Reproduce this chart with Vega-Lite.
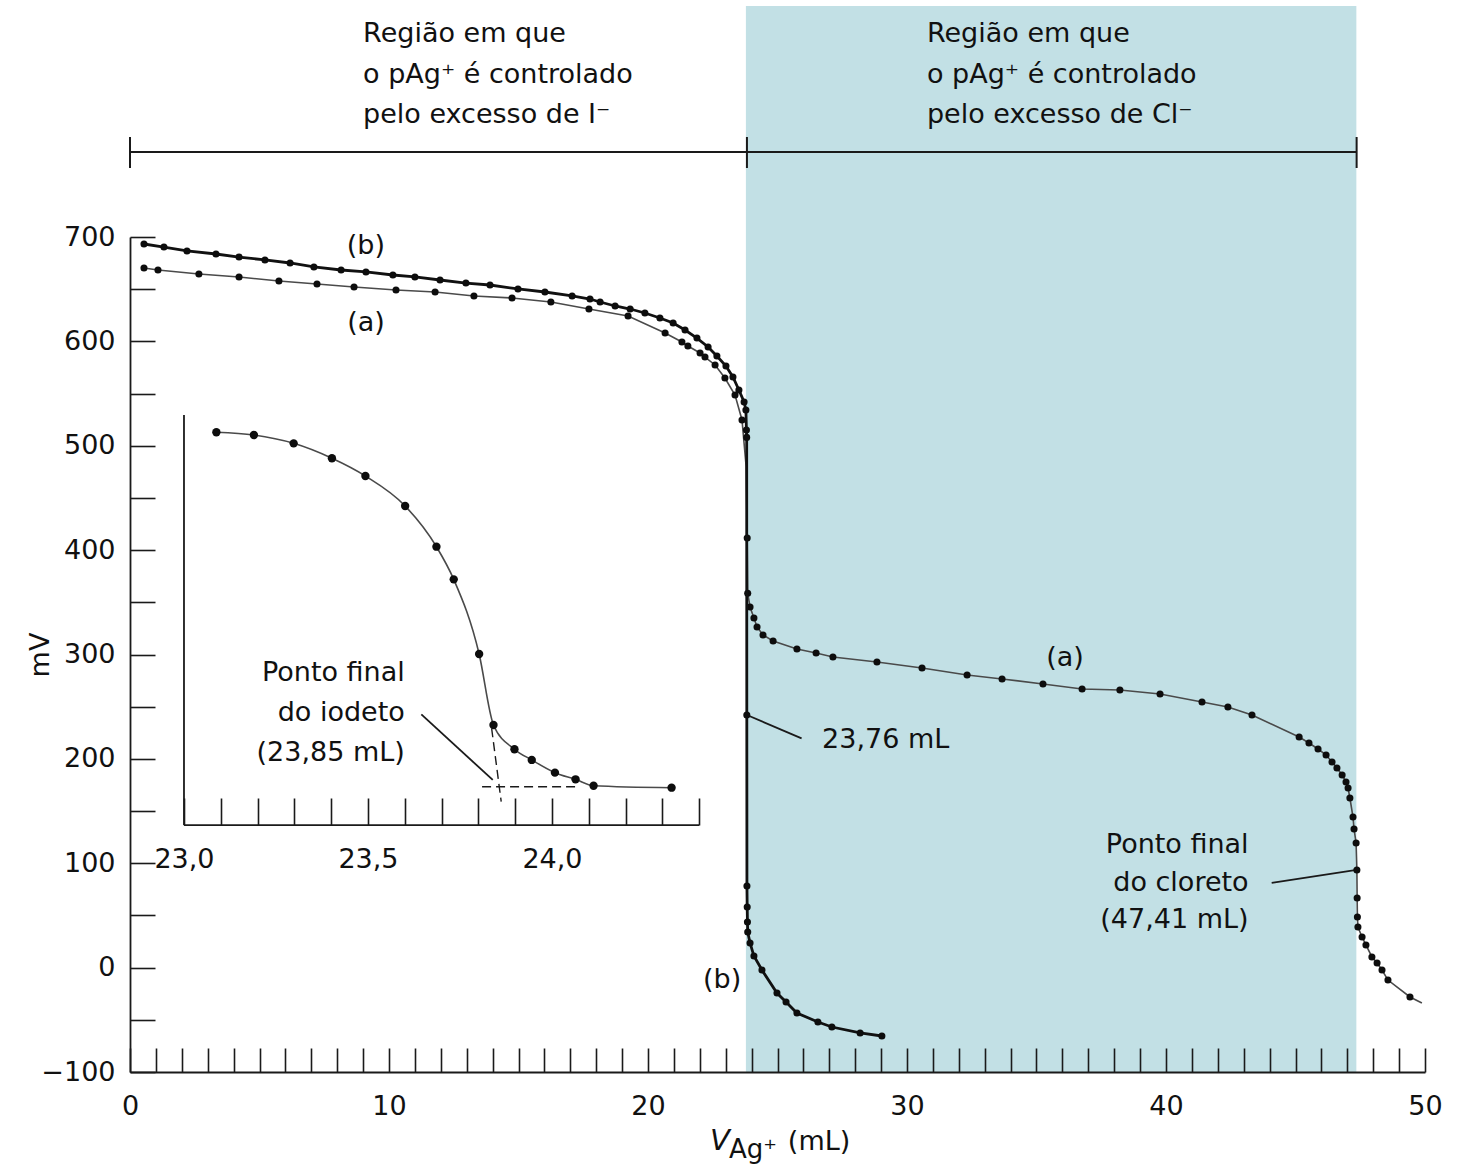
{
  "$schema": "https://vega.github.io/schema/vega-lite/v6.json",
  "width": 1295,
  "height": 835,
  "autosize": {"type": "none"},
  "padding": {"left": 130, "top": 237, "right": 38, "bottom": 95},
  "background": "white",
  "config": {
    "view": {"stroke": null},
    "font": "DejaVu Sans",
    "axis": {"grid": false, "domainColor": "#1a1a1a", "domainWidth": 1.8, "tickColor": "#1a1a1a", "tickWidth": 1.6, "labelColor": "#111", "titleColor": "#111", "labelFont": "DejaVu Sans", "titleFont": "DejaVu Sans", "labelFontSize": 27, "titleFontSize": 27, "titleFontWeight": "normal", "labelOverlap": false, "labelFlush": false}
  },
  "datasets": {
    "sombra": [{"x1": 23.78, "x2": 47.35, "y1": -100, "y2": 921.3}],
    "chave": [
      {"x": 0, "x2": 47.36, "y": 781.4, "y2": 781.4},
      {"x": 0, "x2": 0, "y": 766.1, "y2": 795.8},
      {"x": 23.82, "x2": 23.82, "y": 766.1, "y2": 795.8},
      {"x": 47.36, "x2": 47.36, "y": 766.1, "y2": 795.8}
    ],
    "guias": [
      {"x": 23.82, "y": 242.0, "x2": 25.93, "y2": 219.7},
      {"x": 44.08, "y": 81.1, "x2": 47.36, "y2": 93.7}
    ],
    "a": [
      {"x": 0.54, "y": 670.3, "m": 1}, {"x": 1.08, "y": 668.4, "m": 1}, {"x": 2.66, "y": 664.6, "m": 1},
      {"x": 4.21, "y": 661.7, "m": 1}, {"x": 5.75, "y": 657.8, "m": 1}, {"x": 7.22, "y": 655.0, "m": 1},
      {"x": 8.65, "y": 652.1, "m": 1}, {"x": 10.27, "y": 649.2, "m": 1}, {"x": 11.78, "y": 647.3, "m": 1},
      {"x": 13.28, "y": 643.5, "m": 1}, {"x": 14.75, "y": 641.6, "m": 1}, {"x": 16.25, "y": 637.7, "m": 1},
      {"x": 17.72, "y": 631.0, "m": 1}, {"x": 19.23, "y": 624.3, "m": 1}, {"x": 20.66, "y": 608.0, "m": 1},
      {"x": 21.31, "y": 599.4, "m": 1}, {"x": 21.54, "y": 595.6, "m": 1}, {"x": 22.01, "y": 588.9, "m": 1},
      {"x": 22.20, "y": 585.0, "m": 1}, {"x": 22.59, "y": 577.4, "m": 1}, {"x": 22.97, "y": 564.9, "m": 1},
      {"x": 23.36, "y": 548.6, "m": 1}, {"x": 23.63, "y": 524.7, "m": 1}, {"x": 23.79, "y": 480.0, "m": 0},
      {"x": 23.83, "y": 411.6, "m": 1}, {"x": 23.85, "y": 358.6, "m": 1}, {"x": 23.94, "y": 345.5, "m": 1},
      {"x": 24.09, "y": 335.0, "m": 1}, {"x": 24.21, "y": 326.4, "m": 1}, {"x": 24.44, "y": 318.7, "m": 1},
      {"x": 24.83, "y": 313.0, "m": 1}, {"x": 25.75, "y": 305.3, "m": 1}, {"x": 26.49, "y": 301.4, "m": 1},
      {"x": 27.14, "y": 297.6, "m": 1}, {"x": 28.84, "y": 292.8, "m": 1}, {"x": 30.58, "y": 287.1, "m": 1},
      {"x": 32.32, "y": 280.4, "m": 1}, {"x": 33.67, "y": 276.6, "m": 1}, {"x": 35.25, "y": 271.8, "m": 1},
      {"x": 36.76, "y": 266.9, "m": 1}, {"x": 38.22, "y": 266.0, "m": 1}, {"x": 39.77, "y": 262.2, "m": 1},
      {"x": 41.39, "y": 254.5, "m": 1}, {"x": 42.39, "y": 249.7, "m": 1}, {"x": 43.32, "y": 242.0, "m": 1},
      {"x": 45.14, "y": 221.0, "m": 1}, {"x": 45.52, "y": 215.2, "m": 1}, {"x": 45.87, "y": 209.5, "m": 1},
      {"x": 46.18, "y": 203.7, "m": 1}, {"x": 46.41, "y": 197.0, "m": 1}, {"x": 46.60, "y": 191.3, "m": 1},
      {"x": 46.80, "y": 184.6, "m": 1}, {"x": 46.95, "y": 177.8, "m": 1}, {"x": 47.03, "y": 172.1, "m": 1},
      {"x": 47.10, "y": 162.5, "m": 1}, {"x": 47.22, "y": 144.3, "m": 1}, {"x": 47.26, "y": 132.8, "m": 1},
      {"x": 47.34, "y": 119.4, "m": 1}, {"x": 47.37, "y": 93.5, "m": 1}, {"x": 47.38, "y": 66.7, "m": 1},
      {"x": 47.39, "y": 48.5, "m": 1}, {"x": 47.41, "y": 38.9, "m": 1}, {"x": 47.57, "y": 29.3, "m": 1},
      {"x": 47.72, "y": 21.7, "m": 1}, {"x": 47.95, "y": 10.2, "m": 1}, {"x": 48.15, "y": 4.4, "m": 1},
      {"x": 48.34, "y": -2.3, "m": 1}, {"x": 48.57, "y": -11.9, "m": 1}, {"x": 49.42, "y": -28.1, "m": 1},
      {"x": 49.88, "y": -33.9, "m": 0}
    ],
    "b": [
      {"x": 0.54, "y": 693.3, "m": 1}, {"x": 1.31, "y": 690.4, "m": 1}, {"x": 2.20, "y": 686.6, "m": 1},
      {"x": 3.32, "y": 683.7, "m": 1}, {"x": 4.21, "y": 680.8, "m": 1}, {"x": 5.21, "y": 678.0, "m": 1},
      {"x": 6.18, "y": 675.1, "m": 1}, {"x": 7.10, "y": 671.3, "m": 1}, {"x": 8.15, "y": 668.4, "m": 1},
      {"x": 9.11, "y": 666.5, "m": 1}, {"x": 10.15, "y": 663.6, "m": 1}, {"x": 11.00, "y": 661.7, "m": 1},
      {"x": 11.97, "y": 658.8, "m": 1}, {"x": 12.97, "y": 655.9, "m": 1}, {"x": 13.90, "y": 654.0, "m": 1},
      {"x": 14.98, "y": 650.2, "m": 1}, {"x": 16.02, "y": 647.3, "m": 1}, {"x": 17.07, "y": 643.5, "m": 1},
      {"x": 17.76, "y": 640.6, "m": 1}, {"x": 18.15, "y": 637.7, "m": 1}, {"x": 18.73, "y": 633.9, "m": 1},
      {"x": 19.31, "y": 631.0, "m": 1}, {"x": 19.88, "y": 627.2, "m": 1}, {"x": 20.46, "y": 622.4, "m": 1},
      {"x": 20.97, "y": 617.6, "m": 1}, {"x": 21.43, "y": 610.9, "m": 1}, {"x": 21.89, "y": 603.2, "m": 1},
      {"x": 22.32, "y": 594.6, "m": 1}, {"x": 22.66, "y": 586.0, "m": 1}, {"x": 23.01, "y": 576.4, "m": 1},
      {"x": 23.28, "y": 565.9, "m": 1}, {"x": 23.51, "y": 553.4, "m": 1}, {"x": 23.71, "y": 541.9, "m": 1},
      {"x": 23.78, "y": 534.2, "m": 1}, {"x": 23.80, "y": 515.1, "m": 1}, {"x": 23.81, "y": 508.0, "m": 1},
      {"x": 23.815, "y": 242.0, "m": 1}, {"x": 23.82, "y": 78.2, "m": 1}, {"x": 23.83, "y": 58.1, "m": 1},
      {"x": 23.84, "y": 43.7, "m": 1}, {"x": 23.85, "y": 34.1, "m": 1}, {"x": 23.94, "y": 23.6, "m": 1},
      {"x": 24.09, "y": 11.1, "m": 1}, {"x": 24.40, "y": -2.3, "m": 1}, {"x": 24.98, "y": -24.3, "m": 1},
      {"x": 25.33, "y": -32.9, "m": 1}, {"x": 25.75, "y": -43.5, "m": 1}, {"x": 26.56, "y": -52.1, "m": 1},
      {"x": 27.10, "y": -56.9, "m": 1}, {"x": 28.19, "y": -62.6, "m": 1}, {"x": 29.03, "y": -65.5, "m": 1}
    ],
    "rotCentro": [
      {"x": 9.11, "y": 691.4, "t": "(b)"},
      {"x": 9.11, "y": 617.6, "t": "(a)"},
      {"x": 36.10, "y": 296.6, "t": "(a)"},
      {"x": 22.86, "y": -11.9, "t": "(b)"}
    ],
    "cabecalho": [
      {"x": 9.0, "y": 886.8, "t": "Região em que"},
      {"x": 9.0, "y": 847.5, "t": "o pAg⁺ é controlado"},
      {"x": 9.0, "y": 809.2, "t": "pelo excesso de I⁻"},
      {"x": 30.77, "y": 886.8, "t": "Região em que"},
      {"x": 30.77, "y": 847.5, "t": "o pAg⁺ é controlado"},
      {"x": 30.77, "y": 809.2, "t": "pelo excesso de Cl⁻"}
    ],
    "rotEsq": [{"x": 26.72, "y": 218.1, "t": "23,76 mL"}],
    "rotDir": [
      {"x": 43.19, "y": 117.5, "t": "Ponto final"},
      {"x": 43.19, "y": 81.1, "t": "do cloreto"},
      {"x": 43.19, "y": 45.6, "t": "(47,41 mL)"}
    ],
    "tituloV": [{"x": 22.39, "y": -175.0, "t": "V"}],
    "tituloSub": [{"x": 23.13, "y": -182.5, "t": "Ag⁺"}],
    "tituloUn": [{"x": 25.40, "y": -175.0, "t": "(mL)"}],
    "ins": [
      {"x": 23.088, "y": 512.9}, {"x": 23.190, "y": 510.3}, {"x": 23.298, "y": 502.3},
      {"x": 23.402, "y": 488.0}, {"x": 23.493, "y": 471.0}, {"x": 23.601, "y": 442.3},
      {"x": 23.686, "y": 403.3}, {"x": 23.733, "y": 372.0}, {"x": 23.802, "y": 300.5},
      {"x": 23.841, "y": 232.5}, {"x": 23.898, "y": 209.2}, {"x": 23.945, "y": 199.0},
      {"x": 24.008, "y": 186.8}, {"x": 24.064, "y": 180.4}, {"x": 24.113, "y": 174.3},
      {"x": 24.325, "y": 172.4}
    ],
    "insEixos": [
      {"x": 23.0, "y": 529.5, "x2": 23.0, "y2": 136.6},
      {"x": 23.0, "y": 136.6, "x2": 24.4, "y2": 136.6}
    ],
    "insTrac": [
      {"x": 23.81, "y": 173.3, "x2": 24.066, "y2": 173.3},
      {"x": 23.836, "y": 229.3, "x2": 23.862, "y2": 159.0}
    ],
    "insGuia": [{"x": 23.645, "y": 242.7, "x2": 23.839, "y2": 179.8}],
    "insTexto": [
      {"x": 23.60, "y": 282.3, "t": "Ponto final"},
      {"x": 23.60, "y": 244.0, "t": "do iodeto"},
      {"x": 23.60, "y": 205.7, "t": "(23,85 mL)"}
    ]
  },
  "resolve": {"scale": {"x": "independent", "y": "independent"}},
  "layer": [
    {
      "data": {"name": "sombra"},
      "mark": {"type": "rect", "color": "#c2e0e5"},
      "encoding": {
        "x": {"field": "x1", "type": "quantitative", "scale": {"domain": [0, 50], "nice": false, "zero": false}, "axis": null},
        "x2": {"field": "x2"},
        "y": {"field": "y1", "type": "quantitative", "scale": {"domain": [-100, 700], "nice": false, "zero": false}, "axis": null},
        "y2": {"field": "y2"}
      }
    },
    {
      "data": {"name": "chave"},
      "mark": {"type": "rule", "color": "#1a1a1a", "strokeWidth": 2},
      "encoding": {
        "x": {"field": "x", "type": "quantitative", "scale": {"domain": [0, 50], "nice": false, "zero": false}, "axis": null},
        "x2": {"field": "x2"},
        "y": {"field": "y", "type": "quantitative", "scale": {"domain": [-100, 700], "nice": false, "zero": false}, "axis": null},
        "y2": {"field": "y2"}
      }
    },
    {
      "data": {"name": "guias"},
      "mark": {"type": "rule", "color": "#1a1a1a", "strokeWidth": 1.8},
      "encoding": {
        "x": {"field": "x", "type": "quantitative", "scale": {"domain": [0, 50], "nice": false, "zero": false}, "axis": null},
        "x2": {"field": "x2"},
        "y": {"field": "y", "type": "quantitative", "scale": {"domain": [-100, 700], "nice": false, "zero": false}, "axis": null},
        "y2": {"field": "y2"}
      }
    },
    {
      "data": {"name": "a"},
      "mark": {"type": "line", "color": "#4a4a4a", "strokeWidth": 1.6},
      "encoding": {
        "x": {"field": "x", "type": "quantitative", "scale": {"domain": [0, 50], "nice": false, "zero": false}, "axis": null},
        "y": {"field": "y", "type": "quantitative", "scale": {"domain": [-100, 700], "nice": false, "zero": false}, "axis": null}
      }
    },
    {
      "data": {"name": "a"},
      "transform": [{"filter": "datum.m === 1"}],
      "mark": {"type": "circle", "color": "#0d0d0d", "opacity": 1, "size": 50},
      "encoding": {
        "x": {"field": "x", "type": "quantitative", "scale": {"domain": [0, 50], "nice": false, "zero": false}, "axis": null},
        "y": {"field": "y", "type": "quantitative", "scale": {"domain": [-100, 700], "nice": false, "zero": false}, "axis": null}
      }
    },
    {
      "data": {"name": "b"},
      "mark": {"type": "line", "color": "#111111", "strokeWidth": 2.8},
      "encoding": {
        "x": {"field": "x", "type": "quantitative", "scale": {"domain": [0, 50], "nice": false, "zero": false},
          "axis": {"orient": "bottom", "zindex": 1, "values": [0,1,2,3,4,5,6,7,8,9,10,11,12,13,14,15,16,17,18,19,20,21,22,23,24,25,26,27,28,29,30,31,32,33,34,35,36,37,38,39,40,41,42,43,44,45,46,47,48,49,50],
            "labelExpr": "datum.value % 10 === 0 ? datum.label : ''", "tickSize": -24, "labelPadding": 45, "title": null}},
        "y": {"field": "y", "type": "quantitative", "scale": {"domain": [-100, 700], "nice": false, "zero": false},
          "axis": {"orient": "left", "zindex": 1, "values": [-100,-50,0,50,100,150,200,250,300,350,400,450,500,550,600,650,700],
            "labelExpr": "datum.value % 100 === 0 ? replace(format(datum.value, 'd'), '-', '−') : ''",
            "tickSize": -25, "labelPadding": 40, "title": "mV", "titlePadding": -14}}
      }
    },
    {
      "data": {"name": "b"},
      "transform": [{"filter": "datum.m === 1"}],
      "mark": {"type": "circle", "color": "#0d0d0d", "opacity": 1, "size": 50},
      "encoding": {
        "x": {"field": "x", "type": "quantitative", "scale": {"domain": [0, 50], "nice": false, "zero": false}, "axis": null},
        "y": {"field": "y", "type": "quantitative", "scale": {"domain": [-100, 700], "nice": false, "zero": false}, "axis": null}
      }
    },
    {
      "data": {"name": "rotCentro"},
      "mark": {"type": "text", "fontSize": 27, "align": "center", "baseline": "middle", "color": "#111"},
      "encoding": {
        "x": {"field": "x", "type": "quantitative", "scale": {"domain": [0, 50], "nice": false, "zero": false}, "axis": null},
        "y": {"field": "y", "type": "quantitative", "scale": {"domain": [-100, 700], "nice": false, "zero": false}, "axis": null},
        "text": {"field": "t"}
      }
    },
    {
      "data": {"name": "cabecalho"},
      "mark": {"type": "text", "fontSize": 27, "align": "left", "baseline": "alphabetic", "color": "#111"},
      "encoding": {
        "x": {"field": "x", "type": "quantitative", "scale": {"domain": [0, 50], "nice": false, "zero": false}, "axis": null},
        "y": {"field": "y", "type": "quantitative", "scale": {"domain": [-100, 700], "nice": false, "zero": false}, "axis": null},
        "text": {"field": "t"}
      }
    },
    {
      "data": {"name": "rotEsq"},
      "mark": {"type": "text", "fontSize": 27, "align": "left", "baseline": "middle", "color": "#111"},
      "encoding": {
        "x": {"field": "x", "type": "quantitative", "scale": {"domain": [0, 50], "nice": false, "zero": false}, "axis": null},
        "y": {"field": "y", "type": "quantitative", "scale": {"domain": [-100, 700], "nice": false, "zero": false}, "axis": null},
        "text": {"field": "t"}
      }
    },
    {
      "data": {"name": "rotDir"},
      "mark": {"type": "text", "fontSize": 27, "align": "right", "baseline": "middle", "color": "#111"},
      "encoding": {
        "x": {"field": "x", "type": "quantitative", "scale": {"domain": [0, 50], "nice": false, "zero": false}, "axis": null},
        "y": {"field": "y", "type": "quantitative", "scale": {"domain": [-100, 700], "nice": false, "zero": false}, "axis": null},
        "text": {"field": "t"}
      }
    },
    {
      "data": {"name": "tituloV"},
      "mark": {"type": "text", "fontSize": 29, "fontStyle": "italic", "align": "left", "baseline": "alphabetic", "color": "#111"},
      "encoding": {
        "x": {"field": "x", "type": "quantitative", "scale": {"domain": [0, 50], "nice": false, "zero": false}, "axis": null},
        "y": {"field": "y", "type": "quantitative", "scale": {"domain": [-100, 700], "nice": false, "zero": false}, "axis": null},
        "text": {"field": "t"}
      }
    },
    {
      "data": {"name": "tituloSub"},
      "mark": {"type": "text", "fontSize": 26, "align": "left", "baseline": "alphabetic", "color": "#111"},
      "encoding": {
        "x": {"field": "x", "type": "quantitative", "scale": {"domain": [0, 50], "nice": false, "zero": false}, "axis": null},
        "y": {"field": "y", "type": "quantitative", "scale": {"domain": [-100, 700], "nice": false, "zero": false}, "axis": null},
        "text": {"field": "t"}
      }
    },
    {
      "data": {"name": "tituloUn"},
      "mark": {"type": "text", "fontSize": 27, "align": "left", "baseline": "alphabetic", "color": "#111"},
      "encoding": {
        "x": {"field": "x", "type": "quantitative", "scale": {"domain": [0, 50], "nice": false, "zero": false}, "axis": null},
        "y": {"field": "y", "type": "quantitative", "scale": {"domain": [-100, 700], "nice": false, "zero": false}, "axis": null},
        "text": {"field": "t"}
      }
    },
    {
      "data": {"name": "insEixos"},
      "mark": {"type": "rule", "color": "#1a1a1a", "strokeWidth": 1.8},
      "encoding": {
        "x": {"field": "x", "type": "quantitative", "scale": {"domain": [22.8533, 26.3723], "nice": false, "zero": false}, "axis": null},
        "x2": {"field": "x2"},
        "y": {"field": "y", "type": "quantitative", "scale": {"domain": [-100, 700], "nice": false, "zero": false}, "axis": null},
        "y2": {"field": "y2"}
      }
    },
    {
      "data": {"name": "insTrac"},
      "mark": {"type": "rule", "color": "#1a1a1a", "strokeWidth": 1.4, "strokeDash": [9, 5]},
      "encoding": {
        "x": {"field": "x", "type": "quantitative", "scale": {"domain": [22.8533, 26.3723], "nice": false, "zero": false}, "axis": null},
        "x2": {"field": "x2"},
        "y": {"field": "y", "type": "quantitative", "scale": {"domain": [-100, 700], "nice": false, "zero": false}, "axis": null},
        "y2": {"field": "y2"}
      }
    },
    {
      "data": {"name": "insGuia"},
      "mark": {"type": "rule", "color": "#1a1a1a", "strokeWidth": 1.8},
      "encoding": {
        "x": {"field": "x", "type": "quantitative", "scale": {"domain": [22.8533, 26.3723], "nice": false, "zero": false}, "axis": null},
        "x2": {"field": "x2"},
        "y": {"field": "y", "type": "quantitative", "scale": {"domain": [-100, 700], "nice": false, "zero": false}, "axis": null},
        "y2": {"field": "y2"}
      }
    },
    {
      "data": {"name": "ins"},
      "mark": {"type": "line", "color": "#4a4a4a", "strokeWidth": 1.6, "interpolate": "monotone"},
      "encoding": {
        "x": {"field": "x", "type": "quantitative", "scale": {"domain": [22.8533, 26.3723], "nice": false, "zero": false},
          "axis": {"orient": "bottom", "zindex": 1, "offset": -247, "domain": false, "values": [23.0, 23.1, 23.2, 23.3, 23.4, 23.5, 23.6, 23.7, 23.8, 23.9, 24.0, 24.1, 24.2, 24.3, 24.4],
            "labelExpr": "indexof(['23', '23.5', '24'], '' + datum.value) >= 0 ? replace(format(datum.value, '.1f'), '.', ',') : ''",
            "tickSize": -27, "labelPadding": 48, "title": null}},
        "y": {"field": "y", "type": "quantitative", "scale": {"domain": [-100, 700], "nice": false, "zero": false}, "axis": null}
      }
    },
    {
      "data": {"name": "ins"},
      "mark": {"type": "circle", "color": "#0d0d0d", "opacity": 1, "size": 70},
      "encoding": {
        "x": {"field": "x", "type": "quantitative", "scale": {"domain": [22.8533, 26.3723], "nice": false, "zero": false}, "axis": null},
        "y": {"field": "y", "type": "quantitative", "scale": {"domain": [-100, 700], "nice": false, "zero": false}, "axis": null}
      }
    },
    {
      "data": {"name": "insTexto"},
      "mark": {"type": "text", "fontSize": 27, "align": "right", "baseline": "middle", "color": "#111"},
      "encoding": {
        "x": {"field": "x", "type": "quantitative", "scale": {"domain": [22.8533, 26.3723], "nice": false, "zero": false}, "axis": null},
        "y": {"field": "y", "type": "quantitative", "scale": {"domain": [-100, 700], "nice": false, "zero": false}, "axis": null},
        "text": {"field": "t"}
      }
    }
  ]
}
